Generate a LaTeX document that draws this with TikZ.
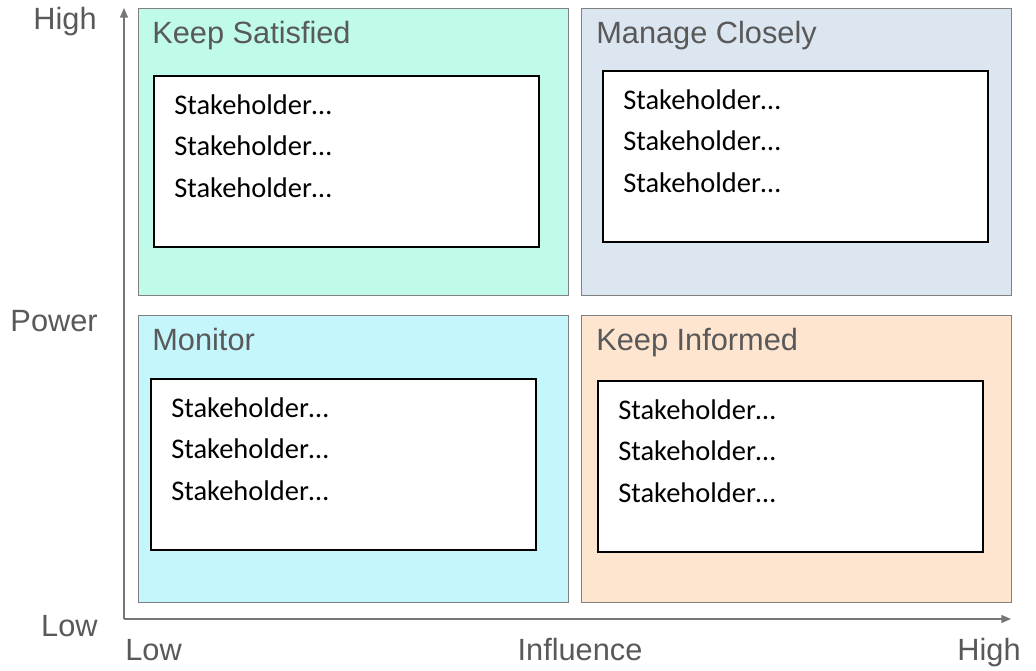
\documentclass[tikz,border=0pt]{standalone}
\usepackage{fontspec}
\setmainfont{Liberation Sans}
\newfontfamily\bodyfont{Carlito}
\usetikzlibrary{positioning,arrows.meta}

\definecolor{satisfiedfill}{RGB}{192,250,234}
\definecolor{closelyfill}{RGB}{220,230,240}
\definecolor{monitorfill}{RGB}{196,246,252}
\definecolor{informedfill}{RGB}{253,229,208}
\definecolor{quadline}{RGB}{128,128,128}
\definecolor{axisgray}{RGB}{118,118,118}
\definecolor{labelgray}{RGB}{89,89,89}

\newcommand{\stakelist}{Stakeholder…\\Stakeholder…\\Stakeholder…}

\begin{document}
\begin{tikzpicture}
	[x=0.02cm, y=-0.02cm,
	quadrant/.style	={rectangle, draw=quadline, line width=0.7pt, anchor=north west, inner sep=0, minimum width=8.6cm, minimum height=5.74cm},
	listbox/.style	={rectangle, draw=black, fill=white, line width=1.1pt, anchor=north west, inner sep=0, minimum width=7.7cm, minimum height=3.42cm},
	names/.style	={align=left, inner sep=0, font=\bodyfont\fontsize{16.2}{23.6}\selectfont},
	caption/.style	={anchor=base west, inner sep=0, text=labelgray, font=\fontsize{17.5}{21}\selectfont},
	axlabel/.style	={inner sep=0, text=labelgray, font=\fontsize{17.5}{21}\selectfont},
	axis/.style		={draw=axisgray, line width=0.85pt, -{Triangle[length=5.5pt, width=4.5pt]}}]
	\useasboundingbox (0,0) rectangle (1036,671);

	% axes
	\coordinate (orig)	at (124,619);
	\coordinate (ytip)	at (124,8);
	\coordinate (xtip)	at (1011,619);
	\draw[axis] (orig) -- (ytip);
	\draw[axis] (orig) -- (xtip);

	\node[axlabel, anchor=base east]	(yhigh)	at (97,30)		{High};
	\node[axlabel, anchor=base east]	(power)	at (98,332)		{Power};
	\node[axlabel, anchor=base east]	(ylow)	at (98,637)		{Low};
	\node[axlabel, anchor=base west]	(xlow)	at (125,661)	{Low};
	\node[axlabel, anchor=base]			(infl)	at (580,661)	{Influence};
	\node[axlabel, anchor=base east]	(xhigh)	at (1021,661)	{High};

	% quadrants
	\node[quadrant, fill=satisfiedfill]	(sat)	at (138,8)		{};
	\node[quadrant, fill=closelyfill]	(clo)	at (581,8)		{};
	\node[quadrant, fill=monitorfill]	(mon)	at (138,315)	{};
	\node[quadrant, fill=informedfill]	(inf)	at (581,315)	{};

	\node[caption] at (152,44)	{Keep Satisfied};
	\node[caption] at (596,44)	{Manage Closely};
	\node[caption] at (152,351)	{Monitor};
	\node[caption] at (596,351)	{Keep Informed};

	% stakeholder lists
	\node[listbox] (satbox) at (153,75)		{};
	\node[listbox] (clobox) at (602,70)		{};
	\node[listbox] (monbox) at (150,378)	{};
	\node[listbox] (infbox) at (597,380)	{};

	\node[names, below right=0.38cm and 0.42cm of satbox.north west]	(satnames)	{\stakelist};
	\node[names, below right=0.38cm and 0.42cm of clobox.north west]	(clonames)	{\stakelist};
	\node[names, below right=0.38cm and 0.42cm of monbox.north west]	(monnames)	{\stakelist};
	\node[names, below right=0.38cm and 0.42cm of infbox.north west]	(infnames)	{\stakelist};
\end{tikzpicture}
\end{document}
